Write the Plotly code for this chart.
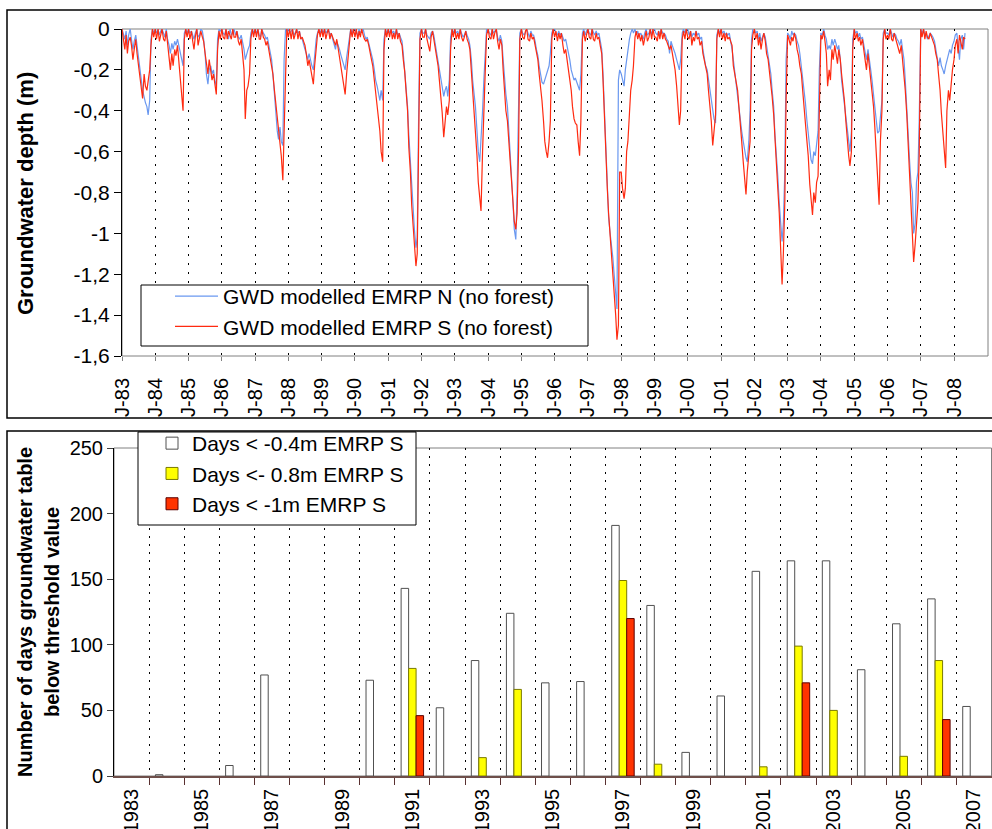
import pandas as pd
import plotly.graph_objects as go

# ---------------- top panel: modelled groundwater depth (semi-monthly readings) ----------------
gwd_s = [  # GWD modelled EMRP S (no forest)
    0.0, -0.05, -0.10, -0.03, -0.12, -0.06, -0.04, -0.08, -0.15, -0.10, -0.05, -0.12, -0.18, -0.22, -0.27, -0.34, -0.22, -0.28, -0.30, -0.26, -0.20, -0.08, 0.0, -0.04,  # 1983
    0.0, -0.05, 0.0, -0.06, -0.03, 0.0, -0.05, -0.06, -0.01, -0.08, -0.14, -0.20, -0.12, -0.18, -0.10, -0.13, -0.08, -0.15, -0.24, -0.30, -0.40, -0.05, 0.0, -0.04,  # 1984
    0.0, -0.05, -0.01, -0.06, -0.10, -0.04, 0.0, -0.08, -0.05, -0.01, -0.04, -0.06, -0.12, -0.18, -0.22, -0.15, -0.20, -0.25, -0.22, -0.28, -0.32, -0.10, -0.01, -0.05,  # 1985
    0.0, -0.04, -0.05, 0.0, -0.05, -0.01, -0.04, -0.05, 0.0, -0.04, -0.04, -0.01, -0.06, -0.08, -0.05, -0.12, -0.20, -0.44, -0.30, -0.28, -0.22, -0.05, 0.0, -0.04,  # 1986
    0.0, -0.04, 0.0, -0.05, -0.05, 0.0, -0.04, -0.05, -0.08, -0.06, -0.10, -0.13, -0.17, -0.22, -0.30, -0.36, -0.45, -0.52, -0.57, -0.62, -0.74, -0.52, -0.33, 0.0,  # 1987
    -0.04, 0.0, -0.05, 0.0, -0.05, -0.02, 0.0, -0.05, -0.01, -0.05, -0.04, -0.06, -0.08, -0.12, -0.18, -0.15, -0.20, -0.24, -0.27, -0.18, -0.08, -0.03, 0.0, -0.04,  # 1988
    0.0, -0.04, 0.0, -0.05, -0.02, 0.0, -0.05, -0.02, -0.04, -0.06, -0.08, -0.05, -0.10, -0.15, -0.20, -0.24, -0.28, -0.32, -0.22, -0.15, -0.05, 0.0, -0.04, 0.0,  # 1989
    -0.04, 0.0, -0.05, -0.01, -0.04, 0.0, -0.03, -0.05, -0.06, -0.05, -0.08, -0.12, -0.15, -0.18, -0.25, -0.32, -0.38, -0.45, -0.50, -0.60, -0.65, -0.10, 0.0, -0.04,  # 1990
    0.0, -0.04, 0.0, -0.05, -0.02, -0.05, 0.0, -0.05, -0.02, -0.06, -0.08, -0.15, -0.21, -0.30, -0.40, -0.58, -0.70, -0.86, -0.95, -1.05, -1.16, -1.10, -0.50, -0.05,  # 1991
    0.0, -0.04, -0.04, 0.0, -0.05, -0.08, -0.11, -0.04, -0.01, -0.05, -0.10, -0.15, -0.18, -0.25, -0.32, -0.41, -0.53, -0.45, -0.38, -0.42, -0.35, -0.10, 0.0, -0.04,  # 1992
    0.0, -0.05, -0.02, -0.05, 0.0, -0.04, -0.06, -0.04, -0.01, -0.05, -0.07, -0.10, -0.20, -0.30, -0.38, -0.50, -0.62, -0.75, -0.85, -0.89, -0.60, -0.35, -0.20, -0.03,  # 1993
    0.0, -0.04, -0.05, 0.0, -0.05, -0.02, 0.0, -0.06, -0.10, -0.05, -0.08, -0.20, -0.30, -0.40, -0.45, -0.55, -0.65, -0.78, -0.88, -0.94, -0.98, -0.90, -0.60, -0.05,  # 1994
    0.0, -0.04, -0.05, -0.01, 0.0, -0.05, -0.06, -0.02, -0.05, -0.04, -0.08, -0.12, -0.15, -0.22, -0.28, -0.35, -0.45, -0.55, -0.60, -0.63, -0.55, -0.45, -0.05, 0.0,  # 1995
    -0.04, -0.01, -0.06, -0.02, -0.05, -0.02, -0.08, -0.12, -0.10, -0.15, -0.22, -0.25, -0.30, -0.38, -0.44, -0.46, -0.47, -0.55, -0.62, -0.45, -0.05, -0.01, -0.06, -0.03,  # 1996
    0.0, -0.04, -0.05, 0.0, -0.05, -0.06, -0.02, -0.05, -0.04, -0.08, -0.12, -0.25, -0.45, -0.62, -0.78, -0.90, -1.00, -1.10, -1.20, -1.30, -1.40, -1.52, -1.45, -0.70,  # 1997
    -0.70, -0.78, -0.83, -0.78, -0.60, -0.55, -0.42, -0.30, -0.25, -0.18, -0.04, -0.01, -0.05, -0.02, -0.06, -0.03, -0.08, -0.05, -0.01, -0.06, -0.04, 0.0, -0.05, 0.0,  # 1998
    -0.04, -0.04, -0.06, -0.01, -0.05, 0.0, -0.05, -0.02, -0.05, -0.06, -0.08, -0.10, -0.08, -0.12, -0.15, -0.20, -0.28, -0.38, -0.47, -0.40, -0.05, -0.01, -0.05, 0.0,  # 1999
    -0.04, -0.05, -0.01, -0.08, -0.04, -0.06, -0.01, -0.05, -0.04, -0.08, -0.06, -0.12, -0.15, -0.18, -0.22, -0.30, -0.38, -0.45, -0.57, -0.50, -0.42, -0.05, 0.0, -0.04,  # 2000
    0.0, -0.05, -0.02, -0.06, -0.02, -0.05, -0.04, -0.06, -0.08, -0.18, -0.22, -0.25, -0.30, -0.38, -0.46, -0.55, -0.65, -0.72, -0.81, -0.70, -0.60, -0.55, -0.10, -0.03,  # 2001
    0.0, -0.05, -0.02, -0.08, -0.04, -0.10, -0.05, -0.02, -0.06, -0.12, -0.15, -0.20, -0.25, -0.33, -0.42, -0.55, -0.65, -0.78, -0.90, -1.05, -1.25, -1.10, -0.85, -0.35,  # 2002
    -0.03, -0.05, -0.08, -0.04, -0.06, -0.02, -0.05, -0.10, -0.13, -0.18, -0.22, -0.30, -0.37, -0.46, -0.55, -0.62, -0.76, -0.85, -0.91, -0.80, -0.85, -0.75, -0.72, -0.40,  # 2003
    -0.03, -0.05, -0.01, -0.06, -0.12, -0.28, -0.20, -0.25, -0.10, -0.15, -0.08, -0.12, -0.17, -0.10, -0.15, -0.22, -0.28, -0.35, -0.45, -0.55, -0.62, -0.67, -0.60, -0.10,  # 2004
    0.0, -0.05, -0.02, -0.06, -0.04, -0.08, -0.05, -0.10, -0.15, -0.20, -0.12, -0.18, -0.25, -0.30, -0.38, -0.48, -0.62, -0.75, -0.86, -0.55, -0.40, -0.05, 0.0, -0.05,  # 2005
    -0.03, -0.05, 0.0, -0.05, -0.06, -0.02, -0.05, -0.08, -0.10, -0.12, -0.08, -0.15, -0.20, -0.30, -0.42, -0.55, -0.68, -0.85, -1.00, -1.14, -1.05, -0.95, -0.85, -0.62,  # 2006
    0.0, -0.04, 0.0, -0.05, -0.01, -0.04, -0.05, -0.02, -0.04, -0.06, -0.08, -0.12, -0.15, -0.22, -0.30, -0.41, -0.50, -0.57, -0.68, -0.40, -0.30, -0.35, -0.25, -0.20,  # 2007
    -0.15, -0.08, -0.05, -0.12, -0.03, -0.06, -0.10, -0.04, -0.05,  # 2008
]

gwd_n = [  # GWD modelled EMRP N (no forest)
    0.0, -0.03, -0.05, -0.01, -0.08, -0.03, 0.0, -0.05, -0.10, -0.06, -0.03, -0.08, -0.15, -0.20, -0.25, -0.30, -0.34, -0.36, -0.38, -0.42, -0.35, -0.05, 0.0, -0.02,  # 1983
    0.0, -0.02, 0.0, -0.03, -0.01, 0.0, -0.02, -0.04, 0.0, -0.05, -0.08, -0.12, -0.07, -0.10, -0.06, -0.08, -0.05, -0.08, -0.12, -0.15, -0.18, -0.02, 0.0, -0.02,  # 1984
    0.0, -0.02, -0.01, -0.03, -0.05, -0.02, 0.0, -0.04, -0.03, 0.0, -0.01, -0.05, -0.12, -0.22, -0.27, -0.20, -0.18, -0.22, -0.20, -0.25, -0.28, -0.05, 0.0, -0.01,  # 1985
    0.0, -0.02, -0.03, 0.0, -0.02, -0.05, 0.0, -0.03, -0.02, 0.0, -0.03, -0.01, -0.04, -0.05, -0.03, -0.06, -0.10, -0.15, -0.12, -0.10, -0.08, -0.02, 0.0, -0.02,  # 1986
    0.0, -0.02, 0.0, -0.03, -0.04, 0.0, -0.02, -0.03, -0.05, -0.04, -0.08, -0.12, -0.15, -0.22, -0.30, -0.40, -0.50, -0.54, -0.48, -0.55, -0.57, -0.15, 0.0, -0.01,  # 1987
    0.0, -0.02, -0.01, 0.0, -0.03, -0.02, 0.0, -0.02, -0.01, -0.04, -0.05, -0.08, -0.10, -0.12, -0.15, -0.12, -0.16, -0.18, -0.20, -0.12, -0.05, -0.02, 0.0, -0.02,  # 1988
    0.0, -0.02, 0.0, -0.02, -0.01, 0.0, -0.03, -0.02, -0.05, -0.08, -0.10, -0.06, -0.08, -0.10, -0.13, -0.15, -0.18, -0.20, -0.14, -0.10, -0.03, 0.0, -0.02, 0.0,  # 1989
    0.0, -0.02, -0.03, 0.0, -0.02, -0.01, 0.0, -0.03, -0.05, -0.04, -0.07, -0.10, -0.12, -0.15, -0.20, -0.25, -0.28, -0.32, -0.35, -0.30, -0.35, -0.05, 0.0, -0.02,  # 1990
    0.0, -0.02, 0.0, -0.02, -0.01, -0.03, 0.0, -0.03, -0.02, -0.04, -0.06, -0.12, -0.20, -0.28, -0.38, -0.52, -0.65, -0.78, -0.90, -0.98, -1.07, -1.02, -0.40, -0.02,  # 1991
    0.0, -0.02, -0.02, 0.0, -0.03, -0.04, -0.05, -0.02, -0.01, -0.03, -0.08, -0.12, -0.15, -0.20, -0.25, -0.29, -0.33, -0.30, -0.28, -0.33, -0.25, -0.04, 0.0, -0.02,  # 1992
    0.0, -0.02, -0.01, -0.03, 0.0, -0.02, -0.04, -0.03, -0.01, -0.03, -0.05, -0.08, -0.15, -0.25, -0.32, -0.38, -0.50, -0.60, -0.65, -0.55, -0.40, -0.25, -0.12, 0.0,  # 1993
    0.0, -0.02, -0.03, 0.0, -0.02, -0.01, 0.0, -0.04, -0.06, -0.03, -0.06, -0.15, -0.25, -0.32, -0.38, -0.48, -0.60, -0.72, -0.85, -0.98, -1.03, -0.80, -0.40, -0.02,  # 1994
    0.0, -0.02, -0.03, -0.01, 0.0, -0.02, -0.04, -0.01, -0.03, -0.03, -0.06, -0.10, -0.13, -0.18, -0.22, -0.26, -0.27, -0.25, -0.22, -0.20, -0.18, -0.12, -0.02, 0.0,  # 1995
    0.0, -0.02, -0.03, -0.01, -0.03, -0.02, -0.04, -0.06, -0.05, -0.08, -0.12, -0.15, -0.20, -0.22, -0.25, -0.24, -0.26, -0.28, -0.30, -0.22, -0.02, 0.0, -0.03, -0.01,  # 1996
    0.0, -0.02, -0.03, 0.0, -0.02, -0.03, -0.01, -0.03, -0.02, -0.06, -0.10, -0.22, -0.40, -0.60, -0.80, -0.92, -1.00, -1.05, -1.12, -1.20, -1.30, -1.37, -0.25, -0.20,  # 1997
    -0.22, -0.25, -0.28, -0.20, -0.15, -0.12, -0.05, -0.02, 0.0, -0.02, 0.0, -0.03, -0.01, -0.04, -0.02, -0.03, -0.05, -0.02, 0.0, -0.03, -0.02, 0.0, -0.03, 0.0,  # 1998
    0.0, -0.02, -0.03, -0.01, -0.03, 0.0, -0.02, -0.02, -0.03, -0.05, -0.06, -0.12, -0.06, -0.08, -0.10, -0.12, -0.15, -0.18, -0.20, -0.15, -0.02, 0.0, -0.02, 0.0,  # 1999
    0.0, -0.03, -0.01, -0.04, -0.02, -0.03, -0.01, -0.03, -0.02, -0.05, -0.04, -0.10, -0.14, -0.18, -0.20, -0.25, -0.30, -0.35, -0.40, -0.44, -0.46, -0.03, 0.0, -0.02,  # 2000
    0.0, -0.02, -0.01, -0.03, -0.02, -0.03, -0.02, -0.05, -0.10, -0.15, -0.22, -0.28, -0.33, -0.40, -0.45, -0.50, -0.55, -0.60, -0.63, -0.65, -0.55, -0.40, -0.05, 0.0,  # 2001
    0.0, -0.02, -0.01, -0.05, -0.02, -0.06, -0.03, -0.02, -0.04, -0.08, -0.12, -0.16, -0.22, -0.30, -0.38, -0.52, -0.62, -0.72, -0.85, -0.95, -1.04, -0.95, -0.70, -0.15,  # 2002
    -0.02, -0.03, -0.05, -0.01, -0.03, -0.02, -0.03, -0.06, -0.08, -0.12, -0.18, -0.24, -0.30, -0.36, -0.45, -0.52, -0.59, -0.64, -0.66, -0.60, -0.62, -0.55, -0.50, -0.20,  # 2003
    -0.02, -0.03, 0.0, -0.03, -0.05, -0.10, -0.08, -0.10, -0.05, -0.08, -0.05, -0.07, -0.10, -0.08, -0.15, -0.25, -0.32, -0.37, -0.42, -0.50, -0.55, -0.60, -0.50, -0.05,  # 2004
    0.0, -0.02, -0.01, -0.04, -0.02, -0.05, -0.04, -0.08, -0.12, -0.15, -0.10, -0.14, -0.20, -0.25, -0.32, -0.40, -0.48, -0.51, -0.50, -0.42, -0.35, -0.02, 0.0, -0.02,  # 2005
    -0.02, -0.03, 0.0, -0.02, -0.04, -0.02, -0.03, -0.05, -0.06, -0.08, -0.05, -0.10, -0.15, -0.25, -0.40, -0.55, -0.65, -0.75, -0.80, -1.00, -0.95, -0.75, -0.70, -0.45,  # 2006
    0.0, -0.02, 0.0, -0.03, -0.02, -0.05, -0.03, -0.02, -0.03, -0.04, -0.06, -0.10, -0.15, -0.18, -0.14, -0.18, -0.20, -0.22, -0.18, -0.15, -0.12, -0.10, -0.12, -0.08,  # 2007
    -0.06, -0.03, -0.02, -0.08, -0.15, -0.05, -0.03, -0.10, -0.02,  # 2008
]

# sampling dates: 1st and 15th of every month from Jan 1983
gwd_dates = pd.date_range("1983-01-01", periods=len(gwd_s), freq="SMS")

top_tick_years = list(range(1983, 2009))
top_tick_labels = ["J-%02d" % (y % 100) for y in top_tick_years]
depth_ticks = [0, -0.2, -0.4, -0.6, -0.8, -1.0, -1.2, -1.4, -1.6]
depth_tick_labels = ["0", "-0,2", "-0,4", "-0,6", "-0,8", "-1", "-1,2", "-1,4", "-1,6"]

# ---------------- bottom panel: days below threshold ----------------
bar_years = list(range(1983, 2008))
days_below_04 = [0, 1, 0, 8, 77, 0, 0, 73, 143, 52, 88, 124, 71, 72, 191, 130, 18, 61, 156, 164, 164, 81, 116, 135, 53]
days_below_08 = [0, 0, 0, 0, 0, 0, 0, 0, 82, 0, 14, 66, 0, 0, 149, 9, 0, 0, 7, 99, 50, 0, 15, 88, 0]
days_below_10 = [0, 0, 0, 0, 0, 0, 0, 0, 46, 0, 0, 0, 0, 0, 120, 0, 0, 0, 0, 71, 0, 0, 0, 43, 0]
bar_label_years = list(range(1983, 2008, 2))

W, H = 992, 829
FONT = "Arial, Liberation Sans, sans-serif"


def px(x):
    return x / W


def py(y):
    return 1 - y / H


def drawn(values):
    # zero counts draw no bar
    return [v if v > 0 else None for v in values]


fig = go.Figure()

fig.add_trace(go.Scatter(x=gwd_dates, y=gwd_n, mode="lines", name="GWD modelled EMRP N (no forest)",
                         line=dict(color="#6A98F0", width=1.2), xaxis="x", yaxis="y", legend="legend"))
fig.add_trace(go.Scatter(x=gwd_dates, y=gwd_s, mode="lines", name="GWD modelled EMRP S (no forest)",
                         line=dict(color="#FF2A10", width=1.2), xaxis="x", yaxis="y", legend="legend"))

fig.add_trace(go.Bar(x=bar_years, y=drawn(days_below_04), name="Days < -0.4m EMRP S",
                     marker=dict(color="#FFFFFF", line=dict(color="#505050", width=1)),
                     xaxis="x2", yaxis="y2", legend="legend2"))
fig.add_trace(go.Bar(x=bar_years, y=drawn(days_below_08), name="Days <- 0.8m EMRP S",
                     marker=dict(color="#FFFF00", line=dict(color="#7A7A00", width=1)),
                     xaxis="x2", yaxis="y2", legend="legend2"))
fig.add_trace(go.Bar(x=bar_years, y=drawn(days_below_10), name="Days < -1m EMRP S",
                     marker=dict(color="#FF3300", line=dict(color="#5A0000", width=1)),
                     xaxis="x2", yaxis="y2", legend="legend2"))

top_l, top_r, top_t, top_b = 122, 988, 29, 356
bot_l, bot_r, bot_t, bot_b = 114, 991.5, 448, 776

shapes = [
    # outer frames
    dict(type="rect", xref="paper", yref="paper", x0=px(7), x1=1.02, y0=py(418), y1=py(10),
         line=dict(color="#000000", width=1.5), layer="below"),
    dict(type="rect", xref="paper", yref="paper", x0=px(7), x1=1.02, y0=-0.05, y1=py(431),
         line=dict(color="#000000", width=1.5), layer="below"),
    # plot area borders
    dict(type="rect", xref="paper", yref="paper", x0=px(top_l), x1=px(top_r), y0=py(top_b), y1=py(top_t),
         line=dict(color="#808080", width=1), layer="below"),
    dict(type="rect", xref="paper", yref="paper", x0=px(bot_l), x1=px(bot_r), y0=py(bot_b), y1=py(bot_t),
         line=dict(color="#808080", width=1), layer="below"),
    # legend boxes
    dict(type="rect", xref="paper", yref="paper", x0=px(141), x1=px(588), y0=py(346), y1=py(285),
         line=dict(color="#000000", width=1), fillcolor="#FFFFFF", layer="above"),
    dict(type="rect", xref="paper", yref="paper", x0=px(138), x1=px(416), y0=py(525), y1=py(432),
         line=dict(color="#000000", width=1), fillcolor="#FFFFFF", layer="above"),
]

fig.update_layout(
    width=W, height=H, autosize=False,
    margin=dict(l=0, r=0, t=0, b=0, autoexpand=False),
    paper_bgcolor="#FFFFFF", plot_bgcolor="rgba(0,0,0,0)",
    font=dict(family=FONT, size=20, color="#000000"),
    showlegend=True,
    barmode="group", bargap=0.36, bargroupgap=0.0,
    shapes=shapes,
    xaxis=dict(
        domain=[px(top_l), px(top_r)], anchor="y", type="date", automargin=False,
        range=["1983-01-01", "2009-01-08"],
        tickmode="array", tickvals=["%d-01-01" % y for y in top_tick_years], ticktext=top_tick_labels,
        tickangle=-90, tickfont=dict(family=FONT, size=20),
        ticks="outside", ticklen=4, tickcolor="#808080", ticklabelstandoff=9,
        showgrid=True, gridcolor="#000000", griddash="2px,7px", gridwidth=1,
        showline=False, zeroline=False,
    ),
    yaxis=dict(
        domain=[py(top_b), py(top_t)], anchor="x", range=[-1.6, 0], automargin=False,
        tickmode="array", tickvals=depth_ticks, ticktext=depth_tick_labels,
        tickfont=dict(family=FONT, size=21),
        ticks="outside", ticklen=7, tickcolor="#000000",
        showgrid=False, zeroline=False, showline=True, linecolor="#000000", linewidth=1,
    ),
    xaxis2=dict(
        domain=[px(bot_l), px(bot_r)], anchor="y2", range=[1982.5, 2007.5], automargin=False,
        tickmode="array", tickvals=bar_label_years, ticktext=[str(y) for y in bar_label_years],
        tickangle=-90, tickfont=dict(family=FONT, size=20), ticks="", ticklabelstandoff=3,
        showgrid=False, zeroline=False,
        showline=True, linecolor="#6E4F4A", linewidth=1.5,
        minor=dict(tickmode="array", tickvals=[y + 0.5 for y in bar_years[:-1]],
                   ticks="outside", ticklen=7, tickcolor="#5A3030", tickwidth=1,
                   showgrid=True, gridcolor="#000000", griddash="2px,6px", gridwidth=1),
    ),
    yaxis2=dict(
        domain=[py(bot_b), py(bot_t)], anchor="x2", range=[0, 250], automargin=False,
        tickmode="array", tickvals=[0, 50, 100, 150, 200, 250],
        tickfont=dict(family=FONT, size=20),
        ticks="outside", ticklen=6, tickcolor="#404040",
        showgrid=False, zeroline=False, showline=True, linecolor="#000000", linewidth=1,
    ),
    legend=dict(
        x=px(170), y=py(276), xanchor="left", yanchor="top",
        bgcolor="rgba(0,0,0,0)", borderwidth=0, itemwidth=43,
        font=dict(family=FONT, size=21), traceorder="normal",
    ),
    legend2=dict(
        x=px(152), y=py(423), xanchor="left", yanchor="top",
        bgcolor="rgba(0,0,0,0)", borderwidth=0,
        font=dict(family=FONT, size=21), traceorder="normal",
    ),
    annotations=[
        dict(text="<b>Groundwater depth (m)</b>", xref="paper", yref="paper",
             x=px(26), y=py(194), xanchor="center", yanchor="middle", textangle=-90,
             showarrow=False, font=dict(family=FONT, size=22)),
        dict(text="<b>Number of days groundwater table</b>", xref="paper", yref="paper",
             x=px(25), y=py(612), xanchor="center", yanchor="middle", textangle=-90,
             showarrow=False, font=dict(family=FONT, size=20)),
        dict(text="<b>below threshold value</b>", xref="paper", yref="paper",
             x=px(52), y=py(612), xanchor="center", yanchor="middle", textangle=-90,
             showarrow=False, font=dict(family=FONT, size=20)),
    ],
)

fig.write_html("out.html", config={"displayModeBar": False},
               post_script="document.body.style.margin='0px';")
